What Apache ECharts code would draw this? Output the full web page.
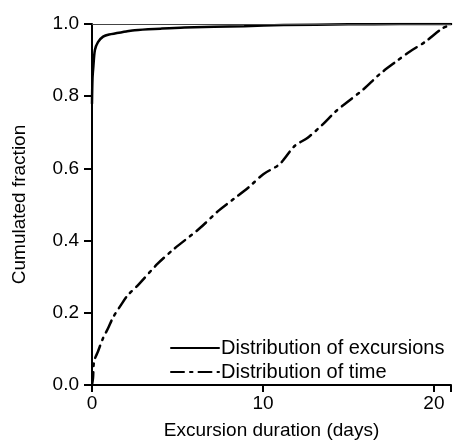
<!DOCTYPE html>
<html>
<head>
<meta charset="utf-8">
<script src="https://cdn.jsdelivr.net/npm/echarts@6/dist/echarts.min.js"></script>
<style>html,body{margin:0;padding:0;background:#fff}#c{width:454px;height:445px}</style>
</head>
<body>
<div id="c"></div>
<script>
// Distribution of excursions (cumulated fraction vs duration in days)
const excursionsX = [0, 0.03, 0.08, 0.17, 0.35, 0.65, 1.0, 2.0, 2.5, 4, 5.4, 8.9, 11.2, 15, 18, 21];
const excursionsY = [0.78, 0.85, 0.882, 0.928, 0.95, 0.965, 0.971, 0.979, 0.983, 0.987, 0.99, 0.994, 0.997, 0.999, 1.0, 1.0];
// Distribution of time
const timeX = [0, 0.06, 0.12, 0.35, 0.65, 0.94, 1.23, 1.7, 2.1, 2.68, 3.84, 4.8, 6.25, 7.41, 8.28, 9.15, 10.02, 10.98, 11.85, 12.62, 13.5, 14.26, 14.94, 15.9, 16.8, 17.7, 18.6, 19.5, 20.5, 20.85];
const timeY = [0, 0.02, 0.065, 0.093, 0.13, 0.157, 0.187, 0.222, 0.249, 0.276, 0.336, 0.377, 0.432, 0.483, 0.515, 0.547, 0.584, 0.612, 0.662, 0.685, 0.722, 0.758, 0.784, 0.82, 0.86, 0.893, 0.924, 0.951, 0.988, 0.995];
const seriesNames = ['Distribution of excursions', 'Distribution of time'];
const xTicks = [0, 10, 20];
const yTicks = [0.0, 0.2, 0.4, 0.6, 0.8, 1.0];

const zip = (xs, ys) => xs.map((x, i) => [x, ys[i]]);
const font = 'Liberation Sans, Arial, sans-serif';
const chart = echarts.init(document.getElementById('c'), null, {renderer: 'canvas'});
chart.setOption({
  animation: false,
  backgroundColor: '#fff',
  grid: {left: 92, right: 0, top: 24, bottom: 58, containLabel: false},
  legend: {
    orient: 'vertical',
    left: 165, top: 333,
    itemWidth: 48, itemHeight: 14, itemGap: 4,
    itemStyle: {opacity: 0},
    textStyle: {fontFamily: font, fontSize: 20, color: '#000', padding: [0,0,0,-3]},
    data: seriesNames
  },
  xAxis: {
    type: 'value', min: 0, max: 21, interval: 10,
    name: 'Excursion duration (days)', nameLocation: 'middle', nameGap: 36,
    nameTextStyle: {fontFamily: font, fontSize: 19, color: '#000'},
    axisLine: {show: true, lineStyle: {color: '#000', width: 2}},
    axisTick: {show: true, inside: false, length: 7, lineStyle: {color: '#000', width: 2}},
    axisLabel: {fontFamily: font, fontSize: 19, color: '#000', margin: 9,
      formatter: v => xTicks.includes(v) ? String(v) : ''},
    splitLine: {show: false}
  },
  yAxis: {
    type: 'value', min: 0, max: 1, interval: 0.2,
    name: 'Cumulated fraction', nameLocation: 'middle', nameGap: 63,
    nameTextStyle: {fontFamily: font, fontSize: 19, color: '#000'},
    axisLine: {show: true, lineStyle: {color: '#000', width: 2}},
    axisTick: {show: true, inside: false, length: 8, lineStyle: {color: '#000', width: 2}},
    axisLabel: {fontFamily: font, fontSize: 19, color: '#000', margin: 13,
      formatter: v => yTicks.some(t => Math.abs(t - v) < 1e-9) ? v.toFixed(1) : ''},
    splitLine: {show: false}
  },
  series: [
    {
      name: seriesNames[0], type: 'line', data: zip(excursionsX, excursionsY),
      symbol: 'none', smooth: 0.3, color: '#000',
      lineStyle: {color: '#000', width: 2.5, cap: 'round'},
      markLine: {
        silent: true, symbol: 'none', label: {show: false},
        lineStyle: {color: '#444', width: 1, type: 'solid'},
        data: [{yAxis: 1}]
      }
    },
    {
      name: seriesNames[1], type: 'line', data: zip(timeX, timeY),
      symbol: 'none', smooth: 0.3, color: '#000',
      lineStyle: {color: '#000', width: 2.5, type: [13, 6, 2.5, 6], cap: 'round'}
    }
  ]
});
</script>
</body>
</html>
